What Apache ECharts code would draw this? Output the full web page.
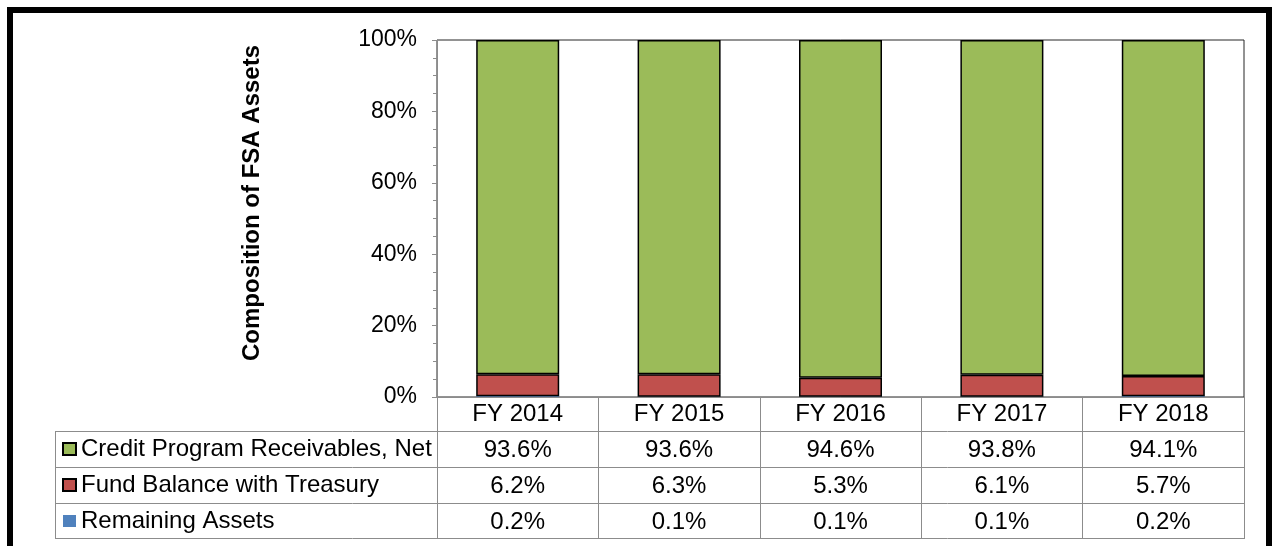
<!DOCTYPE html>
<html lang="en">
<head>
    <meta charset="UTF-8">
    <title>Composition of FSA Assets</title>
    <script src="https://cdn.jsdelivr.net/npm/echarts@6/dist/echarts.min.js"></script>
    <style>
        html, body { margin: 0; padding: 0; background: #fff; }
    </style>
</head>
<body>
<div id="main" style="width: 1272px;height:546px;"></div>
<script type="text/javascript">
    // data
    var years = ['FY 2014', 'FY 2015', 'FY 2016', 'FY 2017', 'FY 2018'];
    var credit = [93.6, 93.6, 94.6, 93.8, 94.1];      // Credit Program Receivables, Net
    var fund = [6.2, 6.3, 5.3, 6.1, 5.7];             // Fund Balance with Treasury
    var remaining = [0.2, 0.1, 0.1, 0.1, 0.2];        // Remaining Assets
    var yTicks = [0, 20, 40, 60, 80, 100];

    var names = ['Credit Program Receivables, Net', 'Fund Balance with Treasury', 'Remaining Assets'];
    var FONT = 'Liberation Sans, Arial, sans-serif';
    var gray = '#8c8c8c';

    function pct(arr) {
        return arr.map(function (v) { return v.toFixed(1) + '%'; });
    }

    // one extra category axis per table row, pushed down with offset
    function rowAxis(labels, offset) {
        return {
            type: 'category',
            position: 'bottom',
            offset: offset,
            data: labels,
            axisLine: {show: false},
            axisTick: {show: false},
            axisLabel: {interval: 0, color: '#000', fontFamily: FONT, fontSize: 24, lineHeight: 26, margin: 6}
        };
    }

    var myChart = echarts.init(document.getElementById('main'));

    // table grid lines (left label column + row separators)
    var rowLines = [431, 467, 503, 538];
    var graphics = rowLines.map(function (y) {
        return {type: 'line', shape: {x1: 55, y1: y + 0.5, x2: 1245, y2: y + 0.5},
            style: {stroke: gray, lineWidth: 1}, z: 10};
    });
    graphics.push({type: 'line', shape: {x1: 55.5, y1: 431, x2: 55.5, y2: 538},
        style: {stroke: gray, lineWidth: 1}, z: 10});
    // y axis title
    graphics.push({type: 'text', x: 252, y: 203, rotation: Math.PI / 2,
        style: {text: 'Composition of FSA Assets', font: 'bold 24px ' + FONT, fill: '#000',
            align: 'center', verticalAlign: 'middle'}});
    // outer frame
    graphics.push({type: 'rect', shape: {x: 10, y: 10, width: 1259, height: 600},
        style: {fill: 'none', stroke: '#000', lineWidth: 6}, z: 20});

    myChart.setOption({
        animation: false,
        backgroundColor: '#fff',
        grid: {left: 437, right: 28, top: 40, bottom: 149, show: true, borderColor: '#262626', borderWidth: 1},
        legend: {
            orient: 'vertical',
            left: 62,
            top: 436,
            padding: 0,
            icon: 'rect',
            itemWidth: 13,
            itemHeight: 12,
            itemGap: 10,
            data: names,
            selectedMode: false,
            textStyle: {color: '#000', fontFamily: FONT, fontSize: 24, lineHeight: 26}
        },
        xAxis: [
            {
                type: 'category',
                data: years,
                axisLine: {lineStyle: {color: gray}},
                axisTick: {show: true, interval: 0, length: 141, lineStyle: {color: gray}},
                axisLabel: {interval: 0, color: '#000', fontFamily: FONT, fontSize: 24, lineHeight: 26, margin: 4}
            },
            rowAxis(pct(credit), 34),
            rowAxis(pct(fund), 70),
            rowAxis(pct(remaining), 106)
        ],
        yAxis: {
            type: 'value',
            min: yTicks[0],
            max: yTicks[yTicks.length - 1],
            interval: 20,
            axisLine: {show: true, lineStyle: {color: gray}},
            axisTick: {show: true, length: 5, lineStyle: {color: gray}},
            minorTick: {show: true, splitNumber: 4, length: 4, lineStyle: {color: gray}},
            splitLine: {show: false},
            axisLabel: {color: '#000', fontFamily: FONT, fontSize: 23, margin: 20, formatter: '{value}%'}
        },
        graphic: graphics,
        series: [{
            name: names[2],
            type: 'bar',
            stack: 'total',
            barWidth: 83,
            data: remaining,
            itemStyle: {color: '#4f81bd', borderWidth: 0}
        }, {
            name: names[1],
            type: 'bar',
            stack: 'total',
            barWidth: 83,
            data: fund,
            itemStyle: {color: '#c0504d', borderColor: '#000', borderWidth: 1.5}
        }, {
            name: names[0],
            type: 'bar',
            stack: 'total',
            barWidth: 83,
            data: credit,
            itemStyle: {color: '#9bbb59', borderColor: '#000', borderWidth: 1.5}
        }]
    });
</script>
</body>
</html>
